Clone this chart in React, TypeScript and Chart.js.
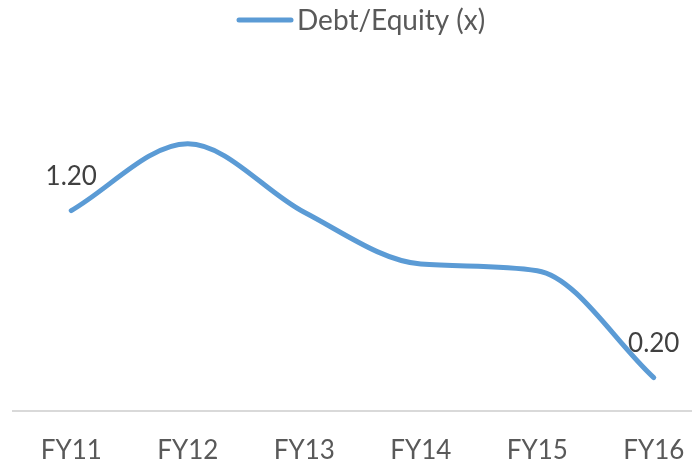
import React, { useEffect, useRef } from "react";
import { Chart, registerables } from "chart.js";

Chart.register(...registerables);

const categories = ["FY11", "FY12", "FY13", "FY14", "FY15", "FY16"];
const debtEquity = [1.2, 1.6, 1.19, 0.88, 0.84, 0.2];
const seriesName = "Debt/Equity (x)";
const labelled = [0, 5];

const BLUE = "#5b9bd5";
const FONT = "Lato, 'Open Sans', sans-serif";

const legendPlugin = {
  id: "customLegend",
  afterDraw(chart: any) {
    const ctx = chart.ctx;
    ctx.save();
    ctx.strokeStyle = BLUE;
    ctx.lineWidth = 5;
    ctx.lineCap = "round";
    ctx.beginPath();
    ctx.moveTo(239, 20);
    ctx.lineTo(291, 20);
    ctx.stroke();
    ctx.fillStyle = "#595959";
    ctx.font = `28px ${FONT}`;
    ctx.textAlign = "left";
    ctx.textBaseline = "alphabetic";
    ctx.fillText(seriesName, 297, 30);
    ctx.restore();
  },
};

const labelPlugin = {
  id: "pointLabels",
  afterDatasetsDraw(chart: any) {
    const ctx = chart.ctx;
    const meta = chart.getDatasetMeta(0);
    ctx.save();
    ctx.fillStyle = "#404040";
    ctx.font = `26px ${FONT}`;
    ctx.textAlign = "center";
    ctx.textBaseline = "alphabetic";
    labelled.forEach((i) => {
      const pt = meta.data[i];
      ctx.fillText(debtEquity[i].toFixed(2), pt.x, pt.y - 26);
    });
    ctx.restore();
  },
};

export default function App() {
  const ref = useRef<HTMLCanvasElement>(null);
  useEffect(() => {
    document.body.style.margin = "0";
    document.body.style.overflow = "hidden";
    const chart = new Chart(ref.current!, {
      type: "line",
      data: {
        labels: categories,
        datasets: [
          {
            label: seriesName,
            data: debtEquity,
            borderColor: BLUE,
            borderWidth: 5,
            pointRadius: 0,
            cubicInterpolationMode: "monotone",
            borderCapStyle: "round",
            fill: false,
          },
        ],
      },
      options: {
        animation: false,
        responsive: false,
        layout: { padding: { top: 77, left: 13, right: 0, bottom: 0 } },
        plugins: { legend: { display: false }, tooltip: { enabled: false } },
        scales: {
          x: {
            offset: true,
            grid: { display: false, drawTicks: false },
            border: { display: true, color: "#d9d9d9", width: 2 },
            ticks: { color: "#595959", font: { family: FONT, size: 26 }, padding: 24 },
            afterFit: (scale: any) => {
              scale.height = 55;
            },
          },
          y: { display: false, min: 0, max: 2 },
        },
      },
      plugins: [legendPlugin, labelPlugin],
    });
    return () => chart.destroy();
  }, []);
  return (
    <div style={{ position: "relative", width: 692, height: 466, overflow: "hidden", background: "#fff" }}>
      <canvas ref={ref} width={712} height={466} style={{ position: "absolute", left: 0, top: 0 }} />
    </div>
  );
}
